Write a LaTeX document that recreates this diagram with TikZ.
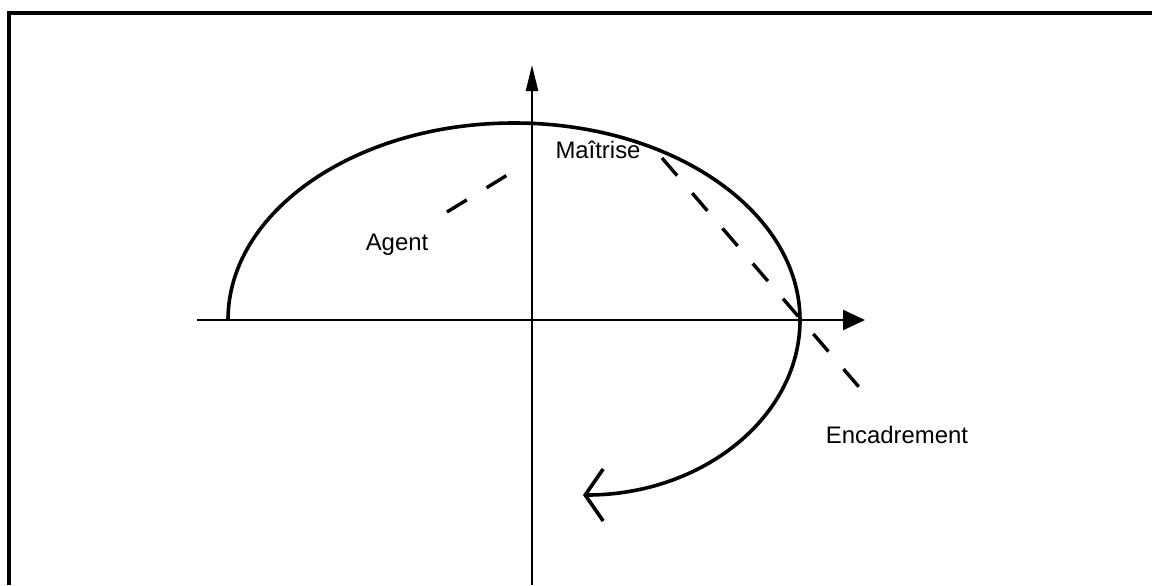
\documentclass[tikz,border=0pt]{standalone}
\usepackage{fontspec}
\setmainfont{Liberation Sans}
\usetikzlibrary{arrows.meta}

\begin{document}
\begin{tikzpicture}[x=0.25mm,y=-0.25mm,
  axe/.style={line width=0.6mm},
  courbe/.style={line width=0.9mm},
  tiret/.style={line width=0.85mm,dash pattern=on 5.8mm off 5.8mm},
  etiquette/.style={font=\fontsize{17}{20}\selectfont,anchor=base,inner sep=0pt}]
\useasboundingbox (0,0) rectangle (1152,585);
% cadre
\draw[line width=0.9mm] (1152,13) -- (9,13) -- (9,585);
% axes
\coordinate (ox) at (197,320); \coordinate (ex) at (865,320);
\coordinate (oy) at (532,585); \coordinate (ey) at (532,65);
\draw[axe,-{Triangle[length=5.5mm,width=5mm]}] (ox) -- (ex);
\draw[axe,-{Triangle[length=6.5mm,width=3mm]}] (oy) -- (ey);
% courbe
\coordinate (c0) at (228,320);
\draw[courbe,-{Straight Barb[length=4.5mm,width=13mm]}] (c0)
  arc[start angle=180,end angle=360,x radius=286,y radius=197]
  arc[start angle=0,end angle=90,x radius=217,y radius=175];
% etiquettes
\node[etiquette] (agent) at (397,250){Agent};
\node[etiquette] (maitrise) at (598,158){Maîtrise};
\node[etiquette] (encadrement) at (897,443){Encadrement};
\coordinate (a1) at (447,212); \coordinate (a2) at (509,174);
\coordinate (m1) at (662,158); \coordinate (m2) at (865,394);
\draw[tiret] (a1) -- (a2);
\draw[tiret] (m1) -- (m2);
\end{tikzpicture}
\end{document}
